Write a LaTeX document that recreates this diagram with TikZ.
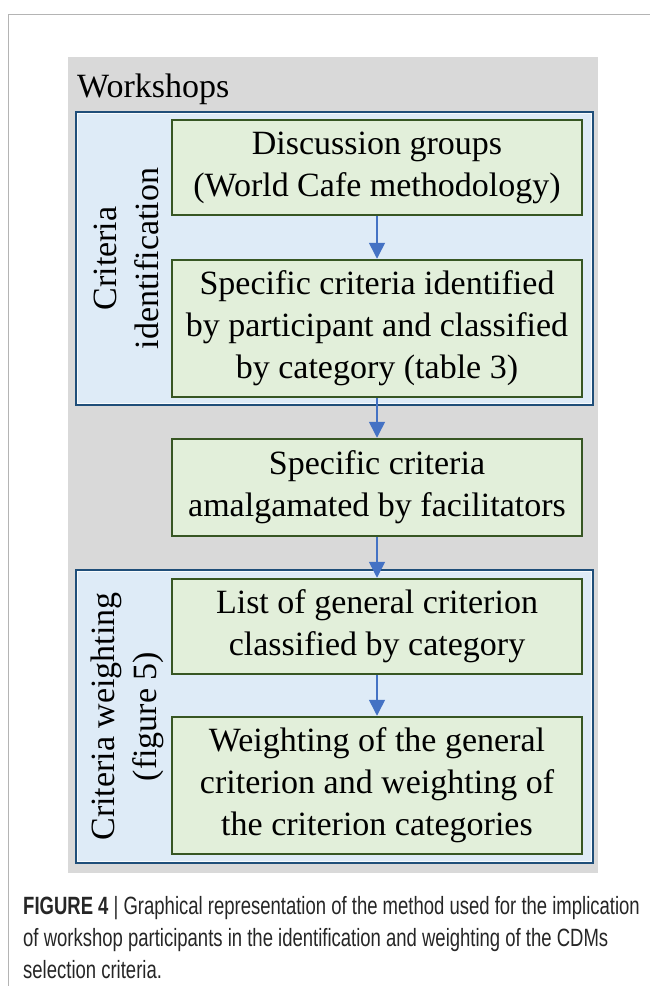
\documentclass[tikz,border=0pt]{standalone}
\usepackage{fontspec}
\setmainfont{Liberation Serif}
\newfontfamily\capfont[FakeStretch=0.74]{Liberation Sans}
\usetikzlibrary{arrows.meta}
\definecolor{bggray}{HTML}{D9D9D9}
\definecolor{blfill}{HTML}{DEEBF7}
\definecolor{bldraw}{HTML}{1F4E79}
\definecolor{grfill}{HTML}{E2EFDA}
\definecolor{grdraw}{HTML}{375623}
\definecolor{arrowblue}{HTML}{4472C4}
\definecolor{framegray}{HTML}{B4B4B4}
\tikzset{
  bigtext/.style={font=\fontsize{34}{42}\selectfont},
  greenbox/.style={bigtext, draw=grdraw, fill=grfill, line width=2.5pt,
    minimum width=410pt, align=center, inner sep=0pt},
  bluebox/.style={draw=bldraw, fill=blfill, line width=2.5pt,
    minimum width=516pt, minimum height=292pt, inner sep=0pt},
  innerline/.style={draw=white!80!blfill, line width=1.2pt},
  flow/.style={draw=arrowblue, line width=1.5pt, -{Triangle[width=16pt,length=16pt]}},
  sidelabel/.style={bigtext, rotate=90, align=center, inner sep=0pt},
}
\begin{document}
\begin{tikzpicture}[x=1pt,y=-1pt]
\useasboundingbox (0,0) rectangle (650,986);
% page frame
\draw[framegray, line width=1pt] (8,986) -- (8,14) -- (650,14);
% gray background
\node[fill=bggray, minimum width=530pt, minimum height=816pt, inner sep=0pt] (bg) at (333,465) {};
\node[bigtext, anchor=base west, inner sep=0pt] (ws) at (77,97) {Workshops};
% blue boxes
\node[bluebox] (b1) at (334.5,258.5) {};
\node[bluebox] (b2) at (334.5,716.5) {};
\draw[innerline] ([xshift=2pt,yshift=-2pt]b1.north west) rectangle ([xshift=-2pt,yshift=2pt]b1.south east);
\draw[innerline] ([xshift=2pt,yshift=-2pt]b2.north west) rectangle ([xshift=-2pt,yshift=2pt]b2.south east);
% side labels
\node[sidelabel] (l1) at (126,258.5) {Criteria\\identification};
\node[sidelabel] (l2) at (127,716.5) {Criteria weighting\\(figure 5)};
% green boxes
\node[greenbox, minimum height=95pt] (g1) at (377,167.5) {Discussion groups\\(World Cafe methodology)};
\node[greenbox, minimum height=137pt] (g2) at (377,328.5) {Specific criteria identified\\by participant and classified\\by category (table 3)};
\node[greenbox, minimum height=97pt] (g3) at (377,487.5) {Specific criteria\\amalgamated by facilitators};
\node[greenbox, minimum height=95pt] (g4) at (377,626.5) {List of general criterion\\classified by category};
\node[greenbox, minimum height=137pt] (g5) at (377,785.5) {Weighting of the general\\criterion and weighting of\\the criterion categories};
% arrows
\draw[flow] (g1.south) -- (g2.north);
\draw[flow] (g2.south) -- (g3.north);
\draw[flow] (g3.south) -- (g4.north);
\draw[flow] (g4.south) -- (g5.north);
% caption
\node[anchor=base west, align=left, inner sep=0pt, text=black!85,
  font=\capfont\fontsize{25}{32}\selectfont] (cap) at (23,978)
  {\textbf{FIGURE 4} | Graphical representation of the method used for the implication\\
   of workshop participants in the identification and weighting of the CDMs\\
   selection criteria.};
\end{tikzpicture}
\end{document}
